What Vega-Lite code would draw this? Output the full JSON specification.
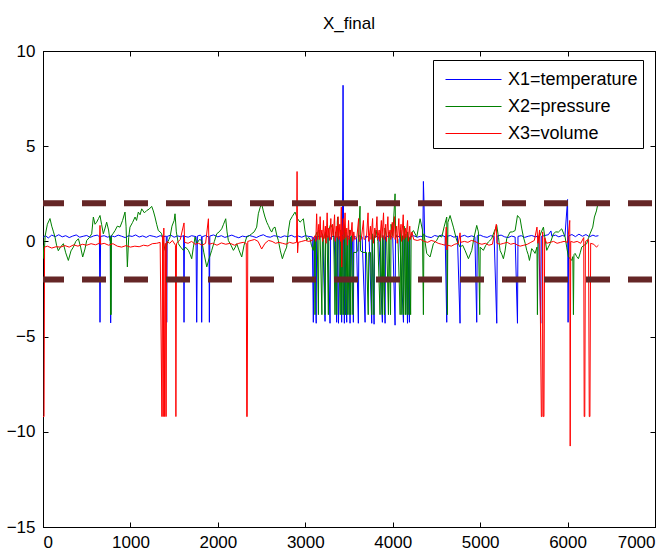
{
"$schema": "https://vega.github.io/schema/vega-lite/v6.json",
"width": 612, "height": 476,
"autosize": {"type": "none"},
"padding": {"left": 43, "top": 51, "right": 15, "bottom": 29},
"background": "white",
"title": {"text": "X_final", "fontSize": 17, "font": "Liberation Sans", "fontWeight": "normal", "offset": 9, "color": "black"},
"config": {
 "view": {"stroke": "black", "strokeWidth": 1},
 "axis": {"labelFont": "Liberation Sans", "labelFontSize": 17, "labelColor": "black", "domainColor": "black", "tickColor": "black", "grid": false, "title": null, "tickSize": -5, "domainWidth": 1},
 "legend": {"orient": "none", "legendX": 390, "legendY": 9, "strokeColor": "black", "fillColor": "white", "padding": 5, "symbolType": "M-2,0H2", "symbolSize": 784, "symbolOffset": 21, "symbolStrokeWidth": 1, "labelFont": "Liberation Sans", "labelFontSize": 18, "labelColor": "black", "labelOffset": 20, "rowPadding": 3, "title": null}
},
"datasets": {
"blue": [
{"x":0,"y":0.22},{"x":30,"y":0.30},{"x":60,"y":0.18},{"x":100,"y":0.33},{"x":140,"y":0.25},{"x":180,"y":0.35},{"x":220,"y":0.24},{"x":260,"y":0.30},{"x":300,"y":0.20},{"x":340,"y":0.28},{"x":380,"y":0.34},{"x":420,"y":0.22},{"x":460,"y":0.27},{"x":500,"y":0.31},{"x":540,"y":0.21},{"x":580,"y":0.29},{"x":620,"y":0.33},{"x":645,"y":0.25},{"x":652,"y":-4.25},{"x":659,"y":0.26},{"x":700,"y":0.30},{"x":740,"y":0.22},{"x":770,"y":0.28},{"x":774,"y":-4.28},{"x":780,"y":0.30},{"x":820,"y":0.24},{"x":860,"y":0.33},{"x":900,"y":0.27},{"x":940,"y":0.20},{"x":980,"y":0.30},{"x":1020,"y":0.26},{"x":1060,"y":0.34},{"x":1100,"y":0.23},{"x":1140,"y":0.29},{"x":1180,"y":0.21},{"x":1220,"y":0.31},{"x":1260,"y":0.27},{"x":1300,"y":0.22},{"x":1340,"y":0.30},{"x":1380,"y":0.25},{"x":1410,"y":0.28},{"x":1415,"y":-4.25},{"x":1420,"y":0.26},{"x":1460,"y":0.33},{"x":1500,"y":0.22},{"x":1540,"y":0.29},{"x":1580,"y":0.24},{"x":1608,"y":0.31},{"x":1613,"y":-4.25},{"x":1618,"y":0.27},{"x":1660,"y":0.22},{"x":1700,"y":0.30},{"x":1750,"y":0.25},{"x":1758,"y":-4.25},{"x":1766,"y":0.28},{"x":1800,"y":0.33},{"x":1812,"y":0.26},{"x":1815,"y":-4.25},{"x":1820,"y":0.24},{"x":1860,"y":0.31},{"x":1898,"y":0.22},{"x":1903,"y":-4.25},{"x":1908,"y":0.28},{"x":1950,"y":0.34},{"x":2000,"y":0.24},{"x":2040,"y":0.30},{"x":2080,"y":0.21},{"x":2120,"y":0.27},{"x":2160,"y":0.33},{"x":2200,"y":0.25},{"x":2240,"y":0.19},{"x":2280,"y":0.28},{"x":2320,"y":0.24},{"x":2360,"y":0.31},{"x":2400,"y":0.26},{"x":2440,"y":0.20},{"x":2480,"y":0.29},{"x":2520,"y":0.35},{"x":2560,"y":0.25},{"x":2600,"y":0.22},{"x":2640,"y":0.30},{"x":2680,"y":0.27},{"x":2720,"y":0.21},{"x":2760,"y":0.29},{"x":2800,"y":0.25},{"x":2840,"y":0.32},{"x":2880,"y":0.23},{"x":2920,"y":0.28},{"x":2960,"y":0.22},{"x":3000,"y":0.30},{"x":3040,"y":0.26},{"x":3080,"y":0.24},{"x":3092,"y":-4.25},{"x":3100,"y":0.22},{"x":3125,"y":-4.3},{"x":3130,"y":0.28},{"x":3170,"y":0.25},{"x":3200,"y":0.30},{"x":3226,"y":-4.2},{"x":3232,"y":0.24},{"x":3260,"y":0.28},{"x":3283,"y":-4.3},{"x":3290,"y":0.22},{"x":3330,"y":0.29},{"x":3359,"y":-4.25},{"x":3365,"y":0.26},{"x":3380,"y":-4.3},{"x":3390,"y":0.25},{"x":3405,"y":0.28},{"x":3416,"y":-4.25},{"x":3425,"y":0.27},{"x":3432,"y":8.2},{"x":3438,"y":0.30},{"x":3447,"y":-4.3},{"x":3452,"y":0.22},{"x":3474,"y":-4.25},{"x":3480,"y":0.29},{"x":3500,"y":0.26},{"x":3512,"y":-4.3},{"x":3518,"y":0.23},{"x":3540,"y":0.30},{"x":3550,"y":-4.25},{"x":3556,"y":0.27},{"x":3585,"y":0.22},{"x":3607,"y":-4.3},{"x":3613,"y":0.30},{"x":3650,"y":0.24},{"x":3684,"y":-4.25},{"x":3690,"y":0.28},{"x":3730,"y":0.22},{"x":3760,"y":-4.3},{"x":3765,"y":0.26},{"x":3787,"y":-4.35},{"x":3792,"y":0.29},{"x":3840,"y":0.23},{"x":3882,"y":-4.25},{"x":3888,"y":0.31},{"x":3913,"y":-4.3},{"x":3918,"y":0.24},{"x":3960,"y":0.29},{"x":4000,"y":0.22},{"x":4027,"y":-4.4},{"x":4032,"y":0.28},{"x":4080,"y":0.25},{"x":4123,"y":-4.25},{"x":4128,"y":0.30},{"x":4150,"y":0.23},{"x":4169,"y":-4.3},{"x":4174,"y":0.27},{"x":4191,"y":-4.25},{"x":4196,"y":0.24},{"x":4240,"y":0.30},{"x":4280,"y":0.22},{"x":4320,"y":0.27},{"x":4345,"y":0.25},{"x":4351,"y":3.15},{"x":4358,"y":2.0},{"x":4365,"y":0.30},{"x":4400,"y":0.24},{"x":4440,"y":0.20},{"x":4480,"y":0.31},{"x":4520,"y":0.26},{"x":4560,"y":0.33},{"x":4600,"y":0.24},{"x":4618,"y":-4.25},{"x":4624,"y":0.27},{"x":4660,"y":0.31},{"x":4700,"y":0.22},{"x":4740,"y":0.28},{"x":4770,"y":-4.3},{"x":4776,"y":0.25},{"x":4820,"y":0.32},{"x":4860,"y":0.23},{"x":4900,"y":0.29},{"x":4940,"y":0.24},{"x":4961,"y":-4.25},{"x":4967,"y":0.30},{"x":5000,"y":0.33},{"x":5040,"y":0.25},{"x":5080,"y":0.21},{"x":5120,"y":0.30},{"x":5160,"y":0.26},{"x":5190,"y":-4.3},{"x":5196,"y":0.29},{"x":5240,"y":0.33},{"x":5280,"y":0.24},{"x":5320,"y":0.20},{"x":5360,"y":0.28},{"x":5400,"y":0.23},{"x":5427,"y":-4.3},{"x":5433,"y":0.26},{"x":5470,"y":0.30},{"x":5510,"y":0.21},{"x":5550,"y":0.27},{"x":5590,"y":0.31},{"x":5630,"y":0.24},{"x":5670,"y":0.28},{"x":5693,"y":-4.3},{"x":5699,"y":0.26},{"x":5740,"y":0.31},{"x":5780,"y":0.35},{"x":5810,"y":0.55},{"x":5820,"y":0.27},{"x":5860,"y":0.33},{"x":5900,"y":0.24},{"x":5940,"y":0.31},{"x":5970,"y":0.27},{"x":6000,"y":2.2},{"x":6006,"y":-4.25},{"x":6012,"y":0.29},{"x":6050,"y":0.36},{"x":6090,"y":0.25},{"x":6130,"y":0.38},{"x":6170,"y":0.27},{"x":6210,"y":0.36},{"x":6250,"y":0.24},{"x":6290,"y":0.33},{"x":6320,"y":0.27},{"x":6353,"y":0.30}
],
"green": [
{"x":0,"y":-0.2},{"x":10,"y":-0.9},{"x":25,"y":0.3},{"x":50,"y":0.9},{"x":80,"y":1.2},{"x":100,"y":0.8},{"x":120,"y":0.5},{"x":137,"y":0.23},{"x":155,"y":-0.2},{"x":175,"y":-0.49},{"x":200,"y":-0.3},{"x":233,"y":-0.12},{"x":260,"y":-0.6},{"x":290,"y":-1.0},{"x":320,"y":-0.5},{"x":347,"y":-0.3},{"x":375,"y":0.0},{"x":405,"y":0.14},{"x":430,"y":-0.3},{"x":454,"y":-0.82},{"x":480,"y":-0.4},{"x":500,"y":0.05},{"x":530,"y":0.2},{"x":557,"y":0.4},{"x":576,"y":1.28},{"x":595,"y":0.9},{"x":614,"y":1.01},{"x":635,"y":1.2},{"x":652,"y":1.36},{"x":670,"y":0.9},{"x":690,"y":0.4},{"x":710,"y":0.7},{"x":728,"y":1.01},{"x":750,"y":0.6},{"x":766,"y":0.05},{"x":770,"y":0.1},{"x":772,"y":-3.85},{"x":776,"y":0.2},{"x":778,"y":-3.85},{"x":782,"y":0.3},{"x":800,"y":0.4},{"x":824,"y":0.57},{"x":850,"y":0.8},{"x":881,"y":0.75},{"x":910,"y":1.1},{"x":938,"y":1.54},{"x":950,"y":0.8},{"x":965,"y":-1.34},{"x":980,"y":0.2},{"x":995,"y":0.75},{"x":1025,"y":1.0},{"x":1053,"y":1.28},{"x":1070,"y":1.1},{"x":1090,"y":1.54},{"x":1110,"y":1.4},{"x":1129,"y":1.71},{"x":1160,"y":1.5},{"x":1186,"y":1.62},{"x":1215,"y":1.7},{"x":1243,"y":1.84},{"x":1262,"y":1.6},{"x":1281,"y":1.28},{"x":1300,"y":0.9},{"x":1319,"y":0.57},{"x":1340,"y":0.5},{"x":1357,"y":0.4},{"x":1375,"y":0.0},{"x":1396,"y":-0.47},{"x":1420,"y":-0.1},{"x":1440,"y":0.1},{"x":1453,"y":0.23},{"x":1475,"y":0.8},{"x":1500,"y":1.1},{"x":1510,"y":1.45},{"x":1525,"y":0.5},{"x":1548,"y":-0.12},{"x":1575,"y":-0.3},{"x":1606,"y":-0.47},{"x":1630,"y":-0.3},{"x":1663,"y":-0.47},{"x":1685,"y":-0.7},{"x":1701,"y":-0.91},{"x":1720,"y":-0.3},{"x":1739,"y":0.23},{"x":1760,"y":-0.1},{"x":1790,"y":0.1},{"x":1815,"y":0.05},{"x":1840,"y":-0.6},{"x":1873,"y":-1.34},{"x":1900,"y":-0.9},{"x":1930,"y":-0.47},{"x":1960,"y":0.0},{"x":1987,"y":0.4},{"x":2015,"y":0.5},{"x":2044,"y":0.66},{"x":2065,"y":0.9},{"x":2090,"y":1.19},{"x":2105,"y":0.5},{"x":2120,"y":0.05},{"x":2150,"y":-0.2},{"x":2178,"y":-0.47},{"x":2200,"y":-0.3},{"x":2216,"y":-0.12},{"x":2245,"y":-0.5},{"x":2273,"y":-0.82},{"x":2300,"y":-0.2},{"x":2330,"y":0.23},{"x":2360,"y":0.3},{"x":2387,"y":0.4},{"x":2415,"y":0.5},{"x":2444,"y":0.75},{"x":2463,"y":1.45},{"x":2485,"y":1.8},{"x":2501,"y":1.97},{"x":2520,"y":1.6},{"x":2539,"y":1.28},{"x":2560,"y":1.0},{"x":2577,"y":0.84},{"x":2600,"y":0.6},{"x":2616,"y":0.49},{"x":2635,"y":0.7},{"x":2654,"y":0.75},{"x":2675,"y":0.3},{"x":2692,"y":0.05},{"x":2715,"y":-0.5},{"x":2738,"y":-0.91},{"x":2760,"y":-0.6},{"x":2787,"y":-0.3},{"x":2805,"y":0.5},{"x":2825,"y":1.1},{"x":2850,"y":1.3},{"x":2883,"y":1.54},{"x":2910,"y":1.2},{"x":2940,"y":1.01},{"x":2960,"y":1.1},{"x":2978,"y":1.19},{"x":2995,"y":0.6},{"x":3016,"y":0.05},{"x":3035,"y":0.2},{"x":3054,"y":0.14},{"x":3070,"y":-0.2},{"x":3092,"y":-0.47},{"x":3105,"y":0.1},{"x":3111,"y":-3.85},{"x":3118,"y":0.3},{"x":3135,"y":0.5},{"x":3150,"y":-3.85},{"x":3156,"y":0.6},{"x":3170,"y":0.2},{"x":3190,"y":-3.85},{"x":3196,"y":0.4},{"x":3210,"y":0.1},{"x":3226,"y":-3.85},{"x":3232,"y":0.5},{"x":3250,"y":0.2},{"x":3264,"y":-3.85},{"x":3270,"y":0.6},{"x":3290,"y":0.9},{"x":3310,"y":0.7},{"x":3325,"y":0.2},{"x":3340,"y":-3.85},{"x":3346,"y":0.5},{"x":3360,"y":-3.85},{"x":3366,"y":1.0},{"x":3370,"y":1.28},{"x":3380,"y":0.4},{"x":3400,"y":-3.85},{"x":3406,"y":0.6},{"x":3420,"y":-3.85},{"x":3426,"y":0.3},{"x":3440,"y":-3.85},{"x":3446,"y":0.8},{"x":3460,"y":-3.85},{"x":3466,"y":0.5},{"x":3480,"y":-3.85},{"x":3486,"y":0.2},{"x":3500,"y":-3.85},{"x":3506,"y":0.6},{"x":3520,"y":-3.85},{"x":3526,"y":0.3},{"x":3545,"y":-3.85},{"x":3551,"y":-0.58},{"x":3580,"y":-0.58},{"x":3600,"y":-0.5},{"x":3626,"y":1.85},{"x":3632,"y":-0.5},{"x":3660,"y":-0.58},{"x":3700,"y":-0.58},{"x":3720,"y":-3.85},{"x":3726,"y":-0.58},{"x":3746,"y":-0.58},{"x":3760,"y":-3.85},{"x":3766,"y":0.4},{"x":3785,"y":-3.85},{"x":3791,"y":0.2},{"x":3810,"y":0.6},{"x":3830,"y":0.0},{"x":3855,"y":-3.85},{"x":3861,"y":0.5},{"x":3880,"y":-3.85},{"x":3886,"y":0.3},{"x":3905,"y":-3.85},{"x":3911,"y":0.7},{"x":3930,"y":0.2},{"x":3951,"y":-3.85},{"x":3957,"y":0.5},{"x":3975,"y":-3.85},{"x":3981,"y":0.9},{"x":4000,"y":0.3},{"x":4027,"y":2.5},{"x":4033,"y":0.4},{"x":4060,"y":0.1},{"x":4085,"y":-3.85},{"x":4091,"y":0.6},{"x":4105,"y":-3.85},{"x":4111,"y":0.3},{"x":4125,"y":-3.85},{"x":4131,"y":0.8},{"x":4145,"y":-3.85},{"x":4151,"y":0.4},{"x":4165,"y":-3.85},{"x":4171,"y":0.5},{"x":4185,"y":-3.85},{"x":4191,"y":0.2},{"x":4205,"y":-3.85},{"x":4211,"y":0.4},{"x":4237,"y":0.57},{"x":4275,"y":0.23},{"x":4313,"y":1.19},{"x":4340,"y":0.6},{"x":4351,"y":-3.85},{"x":4357,"y":0.4},{"x":4389,"y":-0.63},{"x":4427,"y":-0.82},{"x":4465,"y":-0.12},{"x":4503,"y":0.05},{"x":4530,"y":0.3},{"x":4561,"y":0.23},{"x":4590,"y":0.8},{"x":4618,"y":1.28},{"x":4625,"y":-3.85},{"x":4631,"y":1.0},{"x":4656,"y":1.36},{"x":4694,"y":0.75},{"x":4732,"y":0.05},{"x":4770,"y":-0.3},{"x":4800,"y":-0.2},{"x":4827,"y":-0.47},{"x":4866,"y":-0.91},{"x":4904,"y":-0.47},{"x":4930,"y":0.2},{"x":4961,"y":0.84},{"x":4980,"y":0.5},{"x":4995,"y":-3.85},{"x":5001,"y":-0.3},{"x":5037,"y":-0.47},{"x":5065,"y":-0.2},{"x":5094,"y":-0.03},{"x":5132,"y":0.14},{"x":5160,"y":0.5},{"x":5190,"y":0.84},{"x":5210,"y":0.2},{"x":5228,"y":-0.47},{"x":5250,"y":-0.7},{"x":5266,"y":-0.91},{"x":5285,"y":-0.5},{"x":5304,"y":0.14},{"x":5342,"y":0.49},{"x":5370,"y":0.5},{"x":5400,"y":0.57},{"x":5427,"y":1.36},{"x":5457,"y":1.19},{"x":5475,"y":0.7},{"x":5495,"y":0.23},{"x":5515,"y":-0.1},{"x":5533,"y":-0.47},{"x":5550,"y":-0.7},{"x":5564,"y":-1.0},{"x":5590,"y":-0.38},{"x":5610,"y":-0.5},{"x":5628,"y":-0.63},{"x":5650,"y":-0.3},{"x":5655,"y":-3.85},{"x":5661,"y":0.0},{"x":5678,"y":0.23},{"x":5700,"y":0.5},{"x":5724,"y":0.75},{"x":5740,"y":0.2},{"x":5762,"y":-0.47},{"x":5780,"y":-0.3},{"x":5800,"y":-0.12},{"x":5838,"y":0.4},{"x":5865,"y":0.5},{"x":5895,"y":0.49},{"x":5933,"y":0.66},{"x":5972,"y":0.23},{"x":5990,"y":-0.3},{"x":6010,"y":-0.82},{"x":6030,"y":-0.9},{"x":6048,"y":-1.0},{"x":6060,"y":-0.8},{"x":6067,"y":-3.85},{"x":6073,"y":-0.7},{"x":6086,"y":-0.63},{"x":6105,"y":-0.8},{"x":6124,"y":-0.91},{"x":6145,"y":-0.6},{"x":6162,"y":-0.3},{"x":6190,"y":-0.2},{"x":6219,"y":-0.12},{"x":6240,"y":0.2},{"x":6257,"y":0.4},{"x":6288,"y":0.75},{"x":6307,"y":1.28},{"x":6330,"y":1.6},{"x":6346,"y":1.95}
],
"red": [
{"x":0,"y":-9.2},{"x":12,"y":-9.2},{"x":18,"y":-0.3},{"x":50,"y":-0.25},{"x":100,"y":-0.35},{"x":150,"y":-0.28},{"x":200,"y":-0.3},{"x":250,"y":-0.22},{"x":300,"y":-0.3},{"x":350,"y":-0.18},{"x":400,"y":-0.25},{"x":450,"y":-0.15},{"x":500,"y":-0.2},{"x":550,"y":-0.12},{"x":600,"y":-0.18},{"x":645,"y":-0.1},{"x":652,"y":0.84},{"x":658,"y":-0.15},{"x":700,"y":-0.1},{"x":750,"y":-0.2},{"x":800,"y":-0.12},{"x":850,"y":-0.25},{"x":900,"y":-0.3},{"x":950,"y":-0.22},{"x":1000,"y":-0.3},{"x":1050,"y":-0.25},{"x":1100,"y":-0.28},{"x":1150,"y":-0.2},{"x":1200,"y":-0.24},{"x":1250,"y":-0.12},{"x":1300,"y":-0.1},{"x":1340,"y":-0.05},{"x":1360,"y":-9.2},{"x":1368,"y":0.3},{"x":1375,"y":-9.2},{"x":1382,"y":0.7},{"x":1392,"y":-9.2},{"x":1400,"y":-0.1},{"x":1408,"y":-9.2},{"x":1415,"y":0.0},{"x":1450,"y":-0.1},{"x":1480,"y":0.05},{"x":1515,"y":-0.2},{"x":1520,"y":-9.2},{"x":1527,"y":-0.1},{"x":1570,"y":0.1},{"x":1613,"y":0.97},{"x":1620,"y":-0.05},{"x":1660,"y":-0.1},{"x":1700,"y":0.0},{"x":1740,"y":-0.15},{"x":1780,"y":-0.1},{"x":1820,"y":-0.2},{"x":1860,"y":-0.1},{"x":1892,"y":1.19},{"x":1898,"y":-0.15},{"x":1940,"y":-0.1},{"x":1990,"y":-0.2},{"x":2040,"y":-0.08},{"x":2090,"y":-0.15},{"x":2140,"y":-0.1},{"x":2190,"y":-0.2},{"x":2240,"y":-0.1},{"x":2290,"y":-0.05},{"x":2325,"y":-0.1},{"x":2330,"y":-9.2},{"x":2336,"y":-9.2},{"x":2342,"y":0.0},{"x":2380,"y":0.05},{"x":2420,"y":0.1},{"x":2460,"y":0.0},{"x":2501,"y":-0.4},{"x":2540,"y":-0.1},{"x":2580,"y":0.05},{"x":2620,"y":0.0},{"x":2660,"y":-0.1},{"x":2700,"y":-0.05},{"x":2740,"y":-0.1},{"x":2780,"y":-0.15},{"x":2820,"y":-0.05},{"x":2860,"y":-0.1},{"x":2900,"y":-0.05},{"x":2906,"y":3.67},{"x":2912,"y":-0.6},{"x":2920,"y":-0.05},{"x":2960,"y":0.0},{"x":3000,"y":0.05},{"x":3040,"y":0.0},{"x":3080,"y":0.05},{"x":3110,"y":0.3},{"x":3120,"y":0.0},{"x":3130,"y":1.45},{"x":3140,"y":0.1},{"x":3155,"y":0.9},{"x":3162,"y":0.1},{"x":3170,"y":1.3},{"x":3178,"y":0.2},{"x":3190,"y":0.6},{"x":3198,"y":0.0},{"x":3208,"y":1.1},{"x":3216,"y":0.15},{"x":3230,"y":0.8},{"x":3238,"y":-0.1},{"x":3250,"y":1.5},{"x":3258,"y":0.2},{"x":3270,"y":0.7},{"x":3278,"y":0.05},{"x":3292,"y":1.2},{"x":3300,"y":0.1},{"x":3312,"y":0.9},{"x":3320,"y":0.3},{"x":3335,"y":1.4},{"x":3342,"y":0.0},{"x":3355,"y":0.8},{"x":3362,"y":0.2},{"x":3375,"y":1.3},{"x":3383,"y":0.1},{"x":3395,"y":0.9},{"x":3403,"y":0.0},{"x":3412,"y":1.8},{"x":3417,"y":-1.35},{"x":3424,"y":0.3},{"x":3435,"y":1.2},{"x":3442,"y":0.1},{"x":3455,"y":1.5},{"x":3462,"y":0.2},{"x":3475,"y":0.7},{"x":3482,"y":-0.2},{"x":3495,"y":1.1},{"x":3502,"y":0.1},{"x":3515,"y":0.6},{"x":3522,"y":0.3},{"x":3535,"y":1.0},{"x":3542,"y":0.0},{"x":3555,"y":0.5},{"x":3565,"y":0.1},{"x":3590,"y":0.2},{"x":3610,"y":1.2},{"x":3618,"y":0.0},{"x":3640,"y":0.1},{"x":3665,"y":1.1},{"x":3672,"y":0.1},{"x":3700,"y":0.2},{"x":3718,"y":1.5},{"x":3726,"y":0.0},{"x":3745,"y":0.8},{"x":3752,"y":0.1},{"x":3770,"y":1.2},{"x":3778,"y":-0.1},{"x":3795,"y":0.7},{"x":3803,"y":0.2},{"x":3820,"y":1.3},{"x":3828,"y":0.1},{"x":3845,"y":0.6},{"x":3852,"y":0.0},{"x":3870,"y":1.1},{"x":3878,"y":0.2},{"x":3895,"y":1.5},{"x":3902,"y":0.1},{"x":3920,"y":0.9},{"x":3928,"y":0.0},{"x":3945,"y":1.3},{"x":3952,"y":0.2},{"x":3970,"y":0.6},{"x":3978,"y":0.1},{"x":3995,"y":1.0},{"x":4003,"y":0.2},{"x":4020,"y":1.3},{"x":4028,"y":0.1},{"x":4045,"y":0.8},{"x":4052,"y":-0.1},{"x":4070,"y":1.2},{"x":4078,"y":0.2},{"x":4095,"y":0.9},{"x":4102,"y":0.0},{"x":4120,"y":1.4},{"x":4128,"y":0.1},{"x":4145,"y":0.7},{"x":4152,"y":0.2},{"x":4170,"y":1.1},{"x":4178,"y":0.0},{"x":4195,"y":0.8},{"x":4202,"y":0.1},{"x":4220,"y":0.5},{"x":4240,"y":0.1},{"x":4280,"y":0.05},{"x":4320,"y":0.1},{"x":4360,"y":0.0},{"x":4400,"y":-0.05},{"x":4440,"y":0.05},{"x":4480,"y":0.0},{"x":4520,"y":-0.1},{"x":4560,"y":-0.15},{"x":4600,"y":-0.2},{"x":4612,"y":0.75},{"x":4620,"y":-0.45},{"x":4630,"y":-0.2},{"x":4670,"y":-0.25},{"x":4710,"y":-0.15},{"x":4750,"y":-0.1},{"x":4770,"y":0.45},{"x":4778,"y":-0.05},{"x":4820,"y":0.0},{"x":4860,"y":-0.05},{"x":4900,"y":0.05},{"x":4940,"y":0.0},{"x":4980,"y":-0.1},{"x":5020,"y":-0.15},{"x":5060,"y":-0.1},{"x":5100,"y":-0.2},{"x":5140,"y":-0.15},{"x":5185,"y":0.9},{"x":5192,"y":-0.1},{"x":5230,"y":-0.15},{"x":5270,"y":-0.1},{"x":5310,"y":-0.05},{"x":5350,"y":-0.15},{"x":5390,"y":-0.1},{"x":5430,"y":-0.2},{"x":5457,"y":-0.25},{"x":5500,"y":-0.2},{"x":5540,"y":-0.15},{"x":5580,"y":-0.05},{"x":5620,"y":0.05},{"x":5650,"y":0.75},{"x":5660,"y":-0.1},{"x":5680,"y":0.6},{"x":5700,"y":-9.2},{"x":5708,"y":-9.2},{"x":5715,"y":0.5},{"x":5722,"y":-9.2},{"x":5730,"y":-9.2},{"x":5738,"y":0.2},{"x":5760,"y":-0.1},{"x":5800,"y":-0.05},{"x":5840,"y":0.0},{"x":5880,"y":-0.1},{"x":5920,"y":-0.05},{"x":5960,"y":0.0},{"x":6000,"y":-0.05},{"x":6025,"y":1.1},{"x":6030,"y":-10.75},{"x":6036,"y":0.0},{"x":6070,"y":-0.05},{"x":6110,"y":0.0},{"x":6150,"y":-0.1},{"x":6185,"y":0.2},{"x":6190,"y":-9.2},{"x":6197,"y":-9.2},{"x":6204,"y":0.0},{"x":6240,"y":0.1},{"x":6248,"y":-9.2},{"x":6256,"y":-9.2},{"x":6264,"y":-0.1},{"x":6300,"y":-0.15},{"x":6330,"y":-0.3},{"x":6353,"y":-0.2}
],
"thr": [{"y":2},{"y":-2}]
},
"resolve": {"axis": {"x": "independent", "y": "independent"}},
"layer": [
 {"data": {"name": "blue"}, "mark": {"type": "line", "strokeWidth": 1, "clip": true},
  "encoding": {
   "x": {"field": "x", "type": "quantitative", "scale": {"domain": [0, 7000], "nice": false, "zero": false}, "axis": {"values": [0,1000,2000,3000,4000,5000,6000,7000], "format": "d", "labelPadding": 12, "orient": "bottom"}},
   "y": {"field": "y", "type": "quantitative", "scale": {"domain": [-15, 10], "nice": false, "zero": false}, "axis": {"values": [-15,-10,-5,0,5,10], "labelPadding": 13, "orient": "left"}},
   "color": {"datum": "X1=temperature", "scale": {"domain": ["X1=temperature", "X2=pressure", "X3=volume"], "range": ["#0000FF", "#008000", "#FF0000"]}}
  }},
 {"data": {"name": "green"}, "mark": {"type": "line", "strokeWidth": 1, "clip": true},
  "encoding": {
   "x": {"field": "x", "type": "quantitative", "axis": null},
   "y": {"field": "y", "type": "quantitative", "axis": null},
   "color": {"datum": "X2=pressure"}
  }},
 {"data": {"name": "red"}, "mark": {"type": "line", "strokeWidth": 1, "clip": true},
  "encoding": {
   "x": {"field": "x", "type": "quantitative", "axis": {"values": [0,1000,2000,3000,4000,5000,6000,7000], "labels": false, "orient": "top"}},
   "y": {"field": "y", "type": "quantitative", "axis": null},
   "color": {"datum": "X3=volume"}
  }},
 {"data": {"name": "thr"}, "mark": {"type": "rule", "color": "#652626", "strokeWidth": 6, "strokeDash": [24, 18], "strokeDashOffset": -3},
  "encoding": {
   "y": {"field": "y", "type": "quantitative", "axis": {"values": [-15,-10,-5,0,5,10], "labels": false, "orient": "right"}}
  }}
]
}
